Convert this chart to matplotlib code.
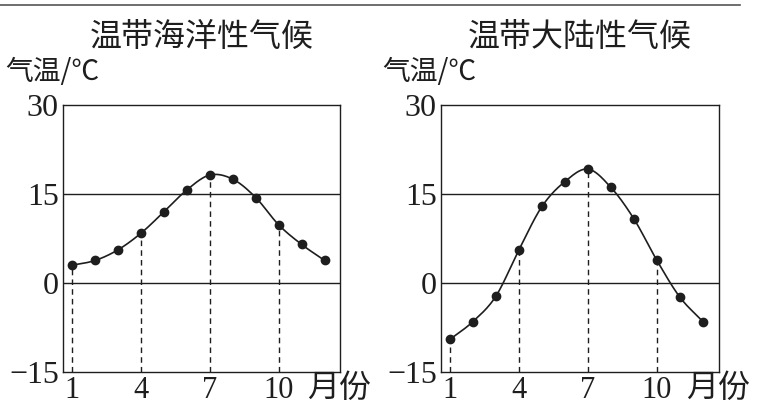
import numpy as np
import matplotlib
matplotlib.use("Agg")
import matplotlib.pyplot as plt

# monthly mean temperature (deg C)
months = [1, 2, 3, 4, 5, 6, 7, 8, 9, 10, 11, 12]
temp_marine = [3.0, 3.8, 5.6, 8.4, 12.0, 15.7, 18.2, 17.5, 14.4, 9.8, 6.5, 3.8]
temp_continental = [-9.5, -6.5, -2.2, 5.6, 12.9, 17.1, 19.2, 16.1, 10.8, 3.8, -2.4, -6.5]
titles = ["温带海洋性气候", "温带大陆性气候"]
yticks = [-15, 0, 15, 30]
ytick_labels = ["−15", "0", "15", "30"]
xticks = [1, 4, 7, 10]
dash_months = [1, 4, 7, 10]

INK = "#1e1e1e"
CJK = ["Noto Sans CJK SC", "DejaVu Sans"]
SERIF = "Liberation Serif"


def smooth(x, y, n=20):
    # cubic hermite curve through the points (just for a smooth line)
    x = np.asarray(x, float)
    y = np.asarray(y, float)
    m = np.gradient(y, x)
    xs, ys = [], []
    for i in range(len(x) - 1):
        h = x[i + 1] - x[i]
        t = np.linspace(0, 1, n, endpoint=False)
        h00 = 2 * t**3 - 3 * t**2 + 1
        h10 = t**3 - 2 * t**2 + t
        h01 = -2 * t**3 + 3 * t**2
        h11 = t**3 - t**2
        xs.append(x[i] + t * h)
        ys.append(h00 * y[i] + h10 * h * m[i] + h01 * y[i + 1] + h11 * h * m[i + 1])
    xs.append([x[-1]])
    ys.append([y[-1]])
    return np.concatenate(xs), np.concatenate(ys)


fig = plt.figure(figsize=(7.58, 4.12), dpi=100)
axes = [fig.add_axes([0.0831, 0.0971, 0.3654, 0.648]),
        fig.add_axes([0.5818, 0.0971, 0.3668, 0.648])]
xlims = [(0.6, 12.67), (0.61, 12.7)]

for ax, temps, title, xl in zip(axes, [temp_marine, temp_continental], titles, xlims):
    ax.set_xlim(*xl)
    ax.set_ylim(-15, 30)
    for s in ax.spines.values():
        s.set_color(INK)
        s.set_linewidth(1.0)
    ax.axhline(15, color=INK, lw=1.0)
    ax.axhline(0, color=INK, lw=1.0)
    for mth in dash_months:
        ax.vlines(mth, -15, temps[mth - 1], colors=INK, linestyles=(0, (4, 3)), lw=1.0)
    sx, sy = smooth(months, temps)
    ax.plot(sx, sy, color=INK, lw=1.2)
    ax.plot(months, temps, "o", color=INK, markersize=6)
    ax.set_xticks(xticks)
    ax.set_xticklabels([str(v) for v in xticks], fontfamily=SERIF, fontsize=22)
    ax.set_yticks(yticks)
    ax.set_yticklabels(ytick_labels, fontfamily=SERIF, fontsize=23)
    ax.tick_params(length=0, pad=3, colors=INK)
    ax.tick_params(axis="x", pad=3)
    ax.text(0.88, -0.06, "月份", transform=ax.transAxes, family=CJK, fontsize=23,
            ha="left", va="center", color=INK)
    ax.text(-0.21, 1.124, "气温/℃", transform=ax.transAxes, family=CJK, fontsize=20,
            ha="left", va="center", color=INK)
    ax.text(0.5, 1.255, title, transform=ax.transAxes, family=CJK, fontsize=23,
            ha="center", va="center", color=INK)

# rule across the top of the scanned page
fig.add_artist(plt.Line2D([0.0, 0.976], [0.988, 0.988], color="#555555", lw=1.2))

fig.savefig("out.png", dpi=100)
